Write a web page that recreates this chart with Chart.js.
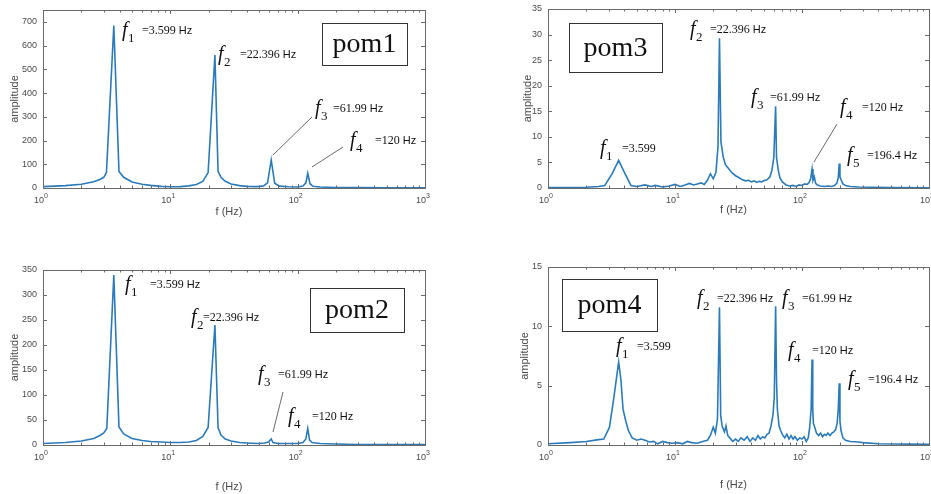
<!DOCTYPE html>
<html>
<head>
<meta charset="utf-8">
<script src="https://cdn.jsdelivr.net/npm/chart.js@4.4.0/dist/chart.umd.min.js"></script>
<style>
  body { margin: 0; background: #fff; width: 931px; height: 494px; overflow: hidden; position: relative; }
  canvas { position: absolute; }
</style>
</head>
<body>
<canvas id="pom1" width="440" height="235" style="left:0;top:0"></canvas>
<canvas id="pom3" width="431" height="235" style="left:500px;top:0"></canvas>
<canvas id="pom2" width="440" height="244" style="left:0;top:250px"></canvas>
<canvas id="pom4" width="431" height="244" style="left:500px;top:250px"></canvas>
<script>
// frequency (Hz) and amplitude
var pom1Freq = [1, 1.5, 2, 2.5, 2.8, 3.0, 3.15, 3.599, 3.95, 4.3, 5, 6, 7, 8.5, 10, 12, 14, 16, 18, 19.8, 22.396, 23.7, 25, 27, 30, 35, 40, 48, 54, 58, 61.99, 66, 72, 85, 100, 110, 116, 120, 125, 132, 150, 200, 300, 500, 1000];
var pom1Amp  = [6, 10, 16, 26, 36, 45, 65, 685, 70, 45, 25, 16, 11, 7, 5, 6, 9, 15, 28, 65, 560, 70, 45, 28, 17, 10, 7, 6, 9, 22, 118, 20, 8, 5, 4, 8, 22, 62, 18, 7, 4, 2, 2, 1, 1];

var pom2Freq = [1, 1.5, 2, 2.5, 2.8, 3.0, 3.17, 3.599, 3.95, 4.3, 5, 6, 7, 8.5, 10, 12, 14, 16, 18, 19.8, 22.396, 23.7, 25, 27, 30, 35, 40, 48, 55, 59, 61.99, 64, 70, 85, 100, 110, 116, 120, 124, 130, 150, 200, 300, 500, 1000];
var pom2Amp  = [3, 5, 8, 13, 19, 24, 33, 340, 36, 22, 13, 9, 7, 6, 5, 5, 6, 9, 17, 35, 240, 35, 20, 12, 8, 5, 4, 3, 4, 6, 12, 5, 3, 3, 3, 5, 12, 33, 10, 5, 3, 2, 1, 1, 1];

var pom3Freq = [1, 1.5, 2, 2.5, 2.8, 3.2, 3.6, 4.0, 4.5, 5, 5.8, 6.5, 7, 8, 9, 10, 11, 12, 13, 14, 15, 16, 17, 18, 19, 20, 21, 21.8, 22.396, 23, 24, 25, 26, 28, 30, 32, 34, 36, 38, 40, 42, 44, 46, 48, 50, 53, 56, 58, 60, 61.99, 63, 65, 67, 70, 75, 80, 85, 90, 95, 100, 105, 110, 114, 117, 120, 122, 125, 128, 132, 140, 150, 160, 170, 180, 188, 193, 196.4, 199, 203, 210, 220, 240, 280, 350, 500, 1000];
var pom3Amp  = [0.1, 0.1, 0.15, 0.3, 0.5, 2.8, 5.4, 3.0, 0.5, 0.3, 0.6, 0.3, 0.5, 0.2, 0.4, 0.7, 0.3, 0.6, 0.9, 0.6, 0.8, 1.0, 0.7, 1.5, 2.8, 1.8, 3.0, 8, 29.3, 9, 6, 4.5, 4, 3, 2.4, 2, 1.6, 1.4, 1.5, 1.2, 1.4, 1.1, 1.3, 1.2, 1.4, 1.6, 2.2, 3.5, 6, 16, 6, 3.5, 2, 1.2, 0.6, 0.4, 0.5, 0.3, 0.6, 0.5, 0.8, 0.7, 1.1, 1.8, 3.7, 1.5, 2.2, 0.9, 0.6, 0.4, 0.3, 0.4, 0.3, 0.5, 0.9, 2, 4.8, 2.2, 1.6, 0.8, 0.5, 0.3, 0.2, 0.15, 0.1, 0.05];

var pom4Freq = [1, 1.5, 2, 2.5, 2.75, 3.05, 3.3, 3.6, 3.75, 3.9, 4.1, 4.3, 4.6, 5, 5.4, 5.8, 6.3, 6.8, 7.3, 8, 8.7, 9.5, 10.5, 11.5, 12.5, 13.5, 15, 16.5, 18, 19, 20, 20.8, 21.6, 22.396, 22.9, 23.5, 24.5, 25.2, 26, 27, 28.5, 30, 31.5, 33, 35, 37, 39, 41, 43, 45, 47, 49, 51, 53, 55, 57, 59, 60.5, 61.99, 63, 64, 66, 68, 70, 73, 76, 79, 82, 85, 88, 92, 96, 100, 104, 108, 112, 115, 118, 120, 121.5, 123, 126, 130, 135, 140, 145, 150, 155, 160, 166, 172, 178, 184, 189, 193, 196.4, 199, 203, 210, 220, 240, 280, 300, 400, 1000];
var pom4Amp  = [0.1, 0.2, 0.3, 0.45, 0.5, 1.5, 4, 7.0, 5.5, 3, 2.0, 1.2, 0.6, 0.4, 0.5, 0.4, 0.25, 0.3, 0.1, 0.3, 0.2, 0.15, 0.2, 0.1, 0.3, 0.2, 0.15, 0.3, 0.4, 0.8, 1.5, 1.0, 2.2, 11.6, 2.5, 1.6, 1.1, 1.6, 0.8, 0.6, 0.3, 0.5, 0.3, 0.6, 0.4, 0.7, 0.3, 0.6, 0.4, 0.8, 0.5, 0.7, 0.6, 0.9, 1.0, 1.6, 2.5, 4, 11.7, 5.5, 3, 1.6, 1.2, 0.9, 0.6, 0.9, 0.5, 0.8, 0.5, 0.7, 0.4, 0.6, 0.5, 0.7, 0.3, 0.6, 1.5, 3, 7.2, 3, 1.8, 1.5, 1.0, 0.8, 1.0, 0.7, 0.9, 0.8, 1.0, 0.8, 1.0, 1.1, 1.3, 1.8, 3, 5.2, 2, 1.2, 0.6, 0.4, 0.3, 0.25, 0.2, 0.1, 0.05];

// axis ticks
var xTickExps = [0, 1, 2, 3];
var pom1YTicks = [0, 100, 200, 300, 400, 500, 600, 700];
var pom2YTicks = [0, 50, 100, 150, 200, 250, 300, 350];
var pom3YTicks = [0, 5, 10, 15, 20, 25, 30, 35];
var pom4YTicks = [0, 5, 10, 15];

var pom1Notes = [
  {sub: '1', val: '=3.599', unit: 'Hz', x: 79, y: 26, gap: 20},
  {sub: '2', val: '=22.396', unit: 'Hz', x: 175, y: 50, gap: 22},
  {sub: '3', val: '=61.99', unit: 'Hz', x: 272, y: 104, gap: 18},
  {sub: '4', val: '=120', unit: 'Hz', x: 307, y: 136, gap: 25}
];
var pom2Notes = [
  {sub: '1', val: '=3.599', unit: 'Hz', x: 82, y: 20, gap: 25},
  {sub: '2', val: '=22.396', unit: 'Hz', x: 148, y: 53, gap: 12},
  {sub: '3', val: '=61.99', unit: 'Hz', x: 215, y: 110, gap: 20},
  {sub: '4', val: '=120', unit: 'Hz', x: 245, y: 152, gap: 24}
];
var pom3Notes = [
  {sub: '1', val: '=3.599', unit: '', x: 52, y: 145, gap: 22},
  {sub: '2', val: '=22.396', unit: 'Hz', x: 142, y: 26, gap: 20},
  {sub: '3', val: '=61.99', unit: 'Hz', x: 203, y: 94, gap: 19},
  {sub: '4', val: '=120', unit: 'Hz', x: 292, y: 104, gap: 22},
  {sub: '5', val: '=196.4', unit: 'Hz', x: 299, y: 152, gap: 20}
];
var pom4Notes = [
  {sub: '1', val: '=3.599', unit: '', x: 68, y: 85, gap: 21},
  {sub: '2', val: '=22.396', unit: 'Hz', x: 149, y: 37, gap: 20},
  {sub: '3', val: '=61.99', unit: 'Hz', x: 234, y: 37, gap: 20},
  {sub: '4', val: '=120', unit: 'Hz', x: 240, y: 89, gap: 24},
  {sub: '5', val: '=196.4', unit: 'Hz', x: 300, y: 118, gap: 20}
];

var tickColor = '#4a4a4a';
var boxColor = '#6a6a6a';
var lineColor = '#2b7bba';

// draws the matlab style frame, ticks, labels and annotations
var matlabFrame = {
  id: 'matlabFrame',
  afterDraw: function(chart) {
    var c = chart.ctx, a = chart.chartArea, o = chart.options.plugins.matlabFrame;
    var xs = chart.scales.x, ys = chart.scales.y;
    c.save();
    c.strokeStyle = boxColor;
    c.lineWidth = 1;
    c.strokeRect(Math.round(a.left) + 0.5, Math.round(a.top) + 0.5, Math.round(a.right - a.left), Math.round(a.bottom - a.top));

    // x ticks (major + minor), inward on bottom and top
    c.beginPath();
    for (var e = 0; e < 3; e++) {
      for (var m = 1; m <= 9; m++) {
        var px = Math.round(xs.getPixelForValue(m * Math.pow(10, e))) + 0.5;
        var len = m === 1 ? 4 : 2.5;
        c.moveTo(px, a.bottom); c.lineTo(px, a.bottom - len);
        c.moveTo(px, a.top); c.lineTo(px, a.top + len);
      }
    }
    o.yTicks.forEach(function(v) {
      var py = Math.round(ys.getPixelForValue(v)) + 0.5;
      c.moveTo(a.left, py); c.lineTo(a.left + 4, py);
      c.moveTo(a.right, py); c.lineTo(a.right - 4, py);
    });
    c.stroke();

    // tick labels
    c.fillStyle = tickColor;
    c.font = '9px "Liberation Sans", Arial, sans-serif';
    c.textAlign = 'right';
    c.textBaseline = 'middle';
    o.yTicks.forEach(function(v) {
      c.fillText(String(v), a.left - 6, ys.getPixelForValue(v));
    });
    c.textBaseline = 'alphabetic';
    xTickExps.forEach(function(e) {
      var px = xs.getPixelForValue(Math.pow(10, e));
      c.font = '9px "Liberation Sans", Arial, sans-serif';
      c.textAlign = 'right';
      c.fillText('10', px + 1, a.bottom + 15);
      c.font = '7px "Liberation Sans", Arial, sans-serif';
      c.textAlign = 'left';
      c.fillText(String(e), px + 1, a.bottom + 10);
    });

    // axis titles
    c.font = '11px "Liberation Sans", Arial, sans-serif';
    c.textAlign = 'center';
    c.textBaseline = 'middle';
    c.fillText('f (Hz)', (a.left + a.right) / 2 - 5, a.bottom + o.xTitleOffset);
    c.save();
    c.translate(a.left - o.yTitleOffset, (a.top + a.bottom) / 2);
    c.rotate(-Math.PI / 2);
    c.fillText('amplitude', 0, 0);
    c.restore();

    // leader lines
    c.strokeStyle = '#444';
    c.lineWidth = 0.8;
    c.beginPath();
    o.leaders.forEach(function(l) {
      c.moveTo(a.left + l[0], a.top + l[1]);
      c.lineTo(a.left + l[2], a.top + l[3]);
    });
    c.stroke();

    // peak labels
    c.fillStyle = '#111';
    c.textBaseline = 'alphabetic';
    c.textAlign = 'left';
    o.notes.forEach(function(n) {
      var x = a.left + n.x, y = a.top + n.y;
      c.font = 'italic 20px "Liberation Serif", "Times New Roman", serif';
      c.fillText('f', x, y);
      c.font = '13px "Liberation Serif", "Times New Roman", serif';
      c.fillText(n.sub, x + 6, y + 6);
      c.font = '12px "Liberation Serif", "Times New Roman", serif';
      c.fillText(n.val, x + n.gap, y - 2);
      if (n.unit) {
        var w = c.measureText(n.val).width;
        c.font = '11px "Liberation Sans", Arial, sans-serif';
        c.fillText(n.unit, x + n.gap + w + 3, y - 2);
      }
    });

    // name box
    var b = o.nameBox;
    c.fillStyle = '#fff';
    c.fillRect(a.left + b.x, a.top + b.y, b.w, b.h);
    c.strokeStyle = '#333';
    c.lineWidth = 1;
    c.strokeRect(Math.round(a.left + b.x) + 0.5, Math.round(a.top + b.y) + 0.5, b.w, b.h);
    c.fillStyle = '#111';
    c.font = '28px "Liberation Serif", "Times New Roman", serif';
    c.textAlign = 'center';
    c.textBaseline = 'middle';
    c.fillText(b.text, a.left + b.x + b.w / 2, a.top + b.y + b.h / 2 + 1);
    c.restore();
  }
};

function makeSpectrum(id, freqs, amps, yMax, yTicks, pad, frame) {
  var points = [];
  for (var i = 0; i < freqs.length; i++) points.push({x: freqs[i], y: amps[i]});
  frame.yTicks = yTicks;
  return new Chart(document.getElementById(id).getContext('2d'), {
    type: 'line',
    data: {
      datasets: [{
        data: points,
        borderColor: lineColor,
        borderWidth: 1.6,
        pointRadius: 0,
        tension: 0,
        fill: false
      }]
    },
    options: {
      responsive: false,
      animation: false,
      layout: { padding: pad },
      plugins: { legend: { display: false }, tooltip: { enabled: false }, matlabFrame: frame },
      scales: {
        x: { type: 'logarithmic', min: 1, max: 1000, display: false },
        y: { type: 'linear', min: 0, max: yMax, display: false }
      }
    },
    plugins: [matlabFrame]
  });
}

makeSpectrum('pom1', pom1Freq, pom1Amp, 750, pom1YTicks,
  {left: 43, top: 10, right: 15, bottom: 47},
  {notes: pom1Notes, xTitleOffset: 24, yTitleOffset: 28,
   leaders: [[230, 145, 269, 107], [269, 157, 300, 137]],
   nameBox: {x: 279, y: 13, w: 85, h: 42, text: 'pom1'}});

makeSpectrum('pom3', pom3Freq, pom3Amp, 35, pom3YTicks,
  {left: 48, top: 9, right: 2, bottom: 47},
  {notes: pom3Notes, xTitleOffset: 22, yTitleOffset: 20,
   leaders: [[266, 153, 289, 115]],
   nameBox: {x: 21, y: 14, w: 93, h: 49, text: 'pom3'}});

makeSpectrum('pom2', pom2Freq, pom2Amp, 350, pom2YTicks,
  {left: 43, top: 20, right: 15, bottom: 49},
  {notes: pom2Notes, xTitleOffset: 42, yTitleOffset: 28,
   leaders: [[230, 162, 240, 122]],
   nameBox: {x: 267, y: 18, w: 94, h: 44, text: 'pom2'}});

makeSpectrum('pom4', pom4Freq, pom4Amp, 15, pom4YTicks,
  {left: 48, top: 17, right: 2, bottom: 49},
  {notes: pom4Notes, xTitleOffset: 40, yTitleOffset: 23,
   leaders: [],
   nameBox: {x: 14, y: 12, w: 95, h: 52, text: 'pom4'}});
</script>
</body>
</html>
